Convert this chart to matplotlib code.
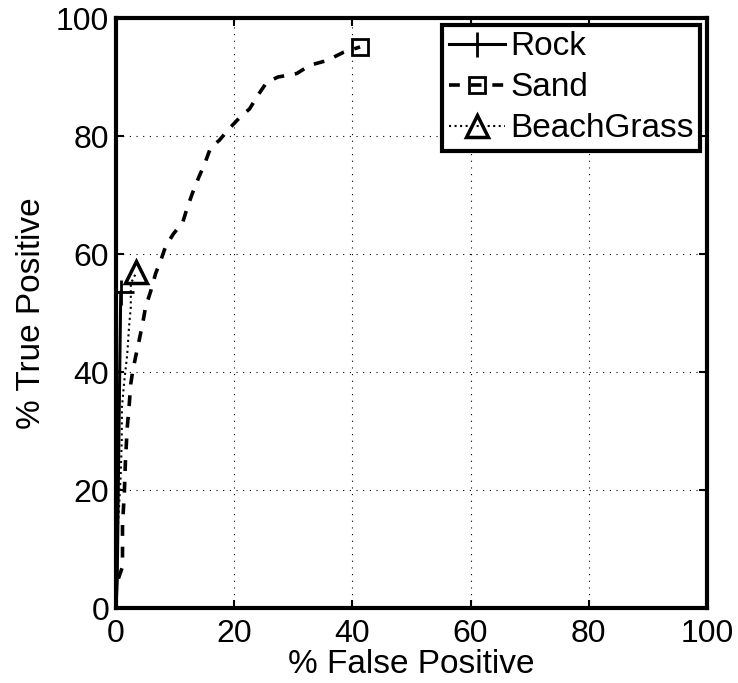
import matplotlib.pyplot as plt

# ROC curves
rock_fp = [0.0, 0.2, 0.5, 0.8]
rock_tp = [0.0, 4.5, 30.0, 53.5]

sand_fp = [0.4, 1.1, 1.1, 1.4, 1.6, 1.9, 2.2, 2.5, 2.8, 3.3, 3.9, 4.5, 5.0, 5.9,
           6.7, 7.6, 8.4, 9.7, 11.3, 12.1, 13.0, 14.0, 15.0, 16.0, 17.5, 19.2,
           20.9, 22.6, 24.0, 25.5, 27.4, 30.6, 32.8, 35.7, 38.5, 41.3]
sand_tp = [5.0, 7.0, 14.2, 19.3, 25.0, 30.6, 34.0, 38.0, 40.0, 42.5, 45.3, 48.2,
           51.0, 53.8, 56.7, 59.0, 61.3, 63.4, 65.4, 68.0, 70.5, 73.0, 75.3,
           78.0, 79.3, 81.3, 83.1, 84.6, 86.9, 89.1, 90.0, 90.6, 92.0, 92.8,
           94.2, 95.1]

grass_fp = [0.0, 0.2, 0.5, 0.8, 0.97, 1.0, 1.4, 1.9, 2.2, 2.5, 2.5, 3.45]
grass_tp = [4.0, 11.4, 17.0, 22.7, 28.4, 34.0, 38.5, 43.0, 47.6, 51.0, 55.0, 56.9]

ticks = [0, 20, 40, 60, 80, 100]

plt.rcParams['font.family'] = ['Liberation Sans', 'DejaVu Sans']
plt.rcParams['font.size'] = 23

fig = plt.figure(figsize=(7.38, 6.83), dpi=100)
ax = fig.add_axes([0.1572, 0.1098, 0.8008, 0.8638])

ax.plot(rock_fp, rock_tp, color='black', lw=2.2, linestyle='-',
        marker='+', markevery=[len(rock_fp) - 1], markersize=18, mew=2,
        label='Rock')
ax.plot(sand_fp, sand_tp, color='black', lw=2.6, linestyle=(0, (3, 3)),
        marker='s', markevery=[len(sand_fp) - 1], markersize=11, mew=2,
        mfc='none', label='Sand')
ax.plot(grass_fp, grass_tp, color='black', lw=1.5, linestyle=':',
        marker='^', markevery=[len(grass_fp) - 1], markersize=16, mew=2.5,
        mfc='none', label='BeachGrass')

ax.set_xlim(0, 100)
ax.set_ylim(0, 100)
ax.set_xticks(ticks)
ax.set_yticks(ticks)
ax.grid(True, color='black', linestyle=(0, (1, 5)), lw=0.8)
ax.tick_params(direction='in', length=6, width=1.5, top=True, right=True)
ax.tick_params(axis='x', pad=8)
ax.tick_params(axis='y', pad=5)
for s in ax.spines.values():
    s.set_linewidth(3)

ax.set_xlabel('% False Positive', fontsize=24, labelpad=0)
ax.set_ylabel('% True Positive', fontsize=24, labelpad=6)

leg = ax.legend(loc='upper right', fontsize=24, handlelength=1.7,
                handletextpad=0.15, borderpad=0.2, labelspacing=0.3,
                borderaxespad=0.2, fancybox=False, framealpha=1,
                edgecolor='black', numpoints=1)
leg.get_frame().set_linewidth(3)

fig.savefig('out.png', dpi=100)
